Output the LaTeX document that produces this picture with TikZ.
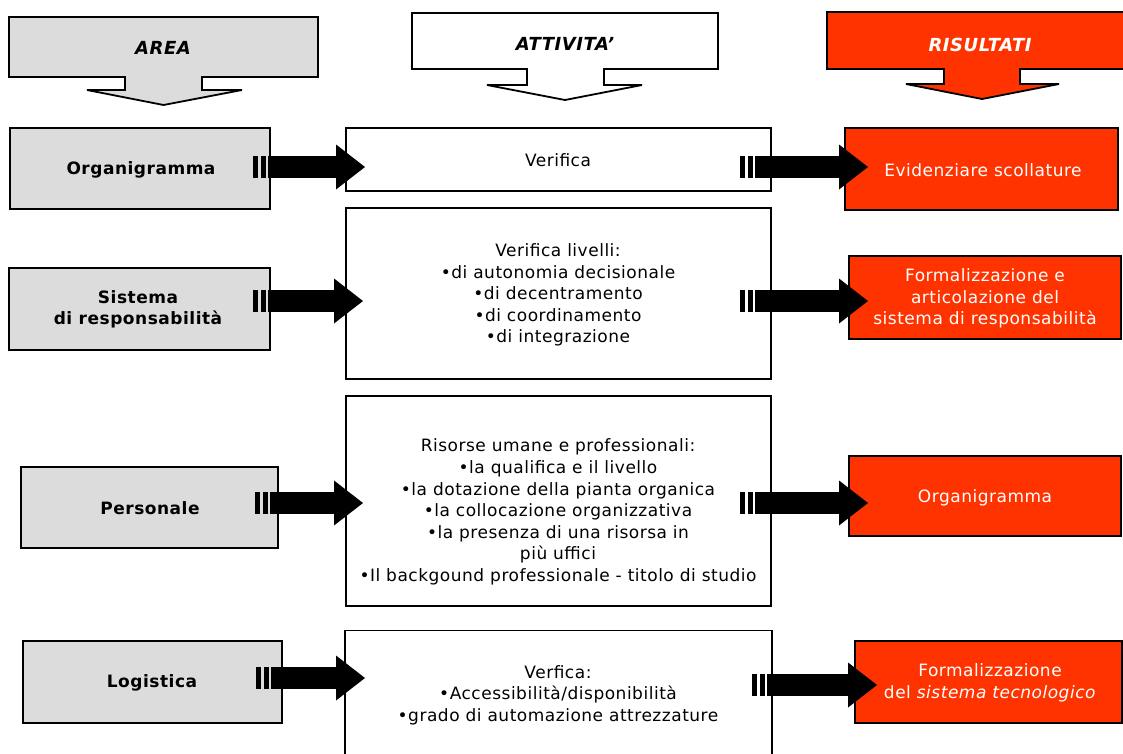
\documentclass[tikz,border=0pt]{standalone}
\usepackage{fontspec}
\setmainfont{DejaVu Sans}[LetterSpace=3.0]
\usetikzlibrary{calc}
\definecolor{rred}{HTML}{FF3300}
\definecolor{lgray}{HTML}{DCDCDC}
\newcommand\fatarrow[2]{%
  \path (#1) coordinate (fs) (#2) coordinate (ft);
  \fill[black] ($(fs)+(0,-11)$) rectangle ($(fs)+(5,11)$);
  \fill[black] ($(fs)+(7.5,-11)$) rectangle ($(fs)+(12.5,11)$);
  \fill[black] ($(fs)+(15,-11)$) rectangle ($(ft)+(-28,11)$);
  \fill[black] ($(ft)+(-29,-22.5)$) -- (ft) -- ($(ft)+(-29,22.5)$) -- cycle;
}
\begin{document}
\begin{tikzpicture}[x=1pt,y=-1pt,
  box/.style={draw=black,line width=1.8pt,inner sep=0pt,outer sep=0pt,rectangle},
  areabox/.style={box,fill=lgray},
  actbox/.style={box,fill=white},
  resbox/.style={box,fill=rred},
  lbl/.style={align=center,inner sep=0pt,font=\fontsize{17}{21}\selectfont\bfseries},
  txt/.style={align=center,inner sep=0pt,font=\fontsize{17}{21.6}\selectfont},
  wtxt/.style={txt,text=white},
  hdr/.style={draw=black,line width=1.8pt},
  hdrtxt/.style={inner sep=0pt,font=\fontsize{18}{20}\selectfont\bfseries\itshape}]
\useasboundingbox (0,0) rectangle (1123,753);
\clip (0,0) rectangle (1123,753);

% headers
\draw[hdr,fill=lgray] (9,17) -- (318,17) -- (318,77) -- (202,77) -- (202,90) -- (242,90)
  -- (163.5,105) -- (87,90) -- (125,90) -- (125,77) -- (9,77) -- cycle;
\draw[hdr,fill=white] (412,13) -- (718,13) -- (718,69) -- (604,69) -- (604,85) -- (642,85)
  -- (565,100) -- (487,85) -- (527,85) -- (527,69) -- (412,69) -- cycle;
\draw[hdr,fill=rred] (827,12) -- (1130,12) -- (1130,69) -- (1020,69) -- (1020,84) -- (1059,84)
  -- (982,99) -- (906,84) -- (944,84) -- (944,69) -- (827,69) -- cycle;
\node[hdrtxt] (hArea) at (163,48) {AREA};
\node[hdrtxt] (hAtt) at (565,44) {ATTIVITA'};
\node[hdrtxt,text=white] (hRis) at (980,45) {RISULTATI};

% boxes
\node[areabox,minimum width=260,minimum height=81] (org) at (140,168.5) {};
\node[actbox,minimum width=425,minimum height=63] (act1) at (558.5,159.5) {};
\node[resbox,minimum width=273,minimum height=82] (res1) at (981.5,169) {};

\node[areabox,minimum width=261,minimum height=82] (sis) at (139.5,309) {};
\node[actbox,minimum width=425,minimum height=171] (act2) at (558.5,293.5) {};
\node[resbox,minimum width=272,minimum height=83] (res2) at (985,297.5) {};

\node[areabox,minimum width=257,minimum height=81] (per) at (149.5,507.5) {};
\node[actbox,minimum width=425,minimum height=210] (act3) at (558.5,501) {};
\node[resbox,minimum width=272,minimum height=80] (res3) at (985,496) {};

\node[areabox,minimum width=259,minimum height=82] (log) at (152.5,682) {};
\node[actbox,minimum width=427,minimum height=139] (act4) at (558.5,700) {};
\node[resbox,minimum width=267,minimum height=82] (res4) at (988.5,682) {};

% texts
\node[lbl] (torg) at (141,170) {Organigramma};
\node[lbl] (tsis) at (138,309.5) {Sistema\\di responsabilità};
\node[lbl] (tper) at (150,508) {Personale};
\node[lbl] (tlog) at (152,683) {Logistica};

\node[txt] (tact1) at (558,160) {Verifica};
\node[txt] (tact2) at (558,295) {Verifica livelli:\\•di autonomia decisionale\\•di decentramento\\•di coordinamento\\•di integrazione};
\node[txt] (tact3) at (558,512) {Risorse umane e professionali:\\•la qualifica e il livello\\•la dotazione della pianta organica\\•la collocazione organizzativa\\•la presenza di una risorsa in\\più uffici\\•Il backgound professionale - titolo di studio};
\node[txt] (tact4) at (558,695) {Verfica:\\•Accessibilità/disponibilità\\•grado di automazione attrezzature};

\node[wtxt] (tres1) at (983,170) {Evidenziare scollature};
\node[wtxt] (tres2) at (985,298.5) {Formalizzazione e\\articolazione del\\sistema di responsabilità};
\node[wtxt] (tres3) at (985,498) {Organigramma};
\node[wtxt] (tres4) at (990,683) {Formalizzazione\\del \textit{sistema tecnologico}};

% arrows
\fatarrow{$(org.east)+(-17,-1.5)$}{$(act1.west|-org.east)+(19,-1.5)$}
\fatarrow{$(act1.east|-org.east)+(-31,-1.5)$}{$(res1.west|-org.east)+(23,-1.5)$}
\fatarrow{$(sis.east)+(-17,-8)$}{$(act2.west|-sis.east)+(17,-8)$}
\fatarrow{$(act2.east|-sis.east)+(-31,-8)$}{$(res2.west|-sis.east)+(19,-8)$}
\fatarrow{$(per.east)+(-23,-4.5)$}{$(act3.west|-per.east)+(17,-4.5)$}
\fatarrow{$(act3.east|-per.east)+(-31,-4.5)$}{$(res3.west|-per.east)+(19,-4.5)$}
\fatarrow{$(log.east)+(-26,-4)$}{$(act4.west|-log.east)+(20,-4)$}
\fatarrow{$(act4.east|-log.east)+(-20,3)$}{$(res4.west|-log.east)+(22,3)$}
\end{tikzpicture}
\end{document}
